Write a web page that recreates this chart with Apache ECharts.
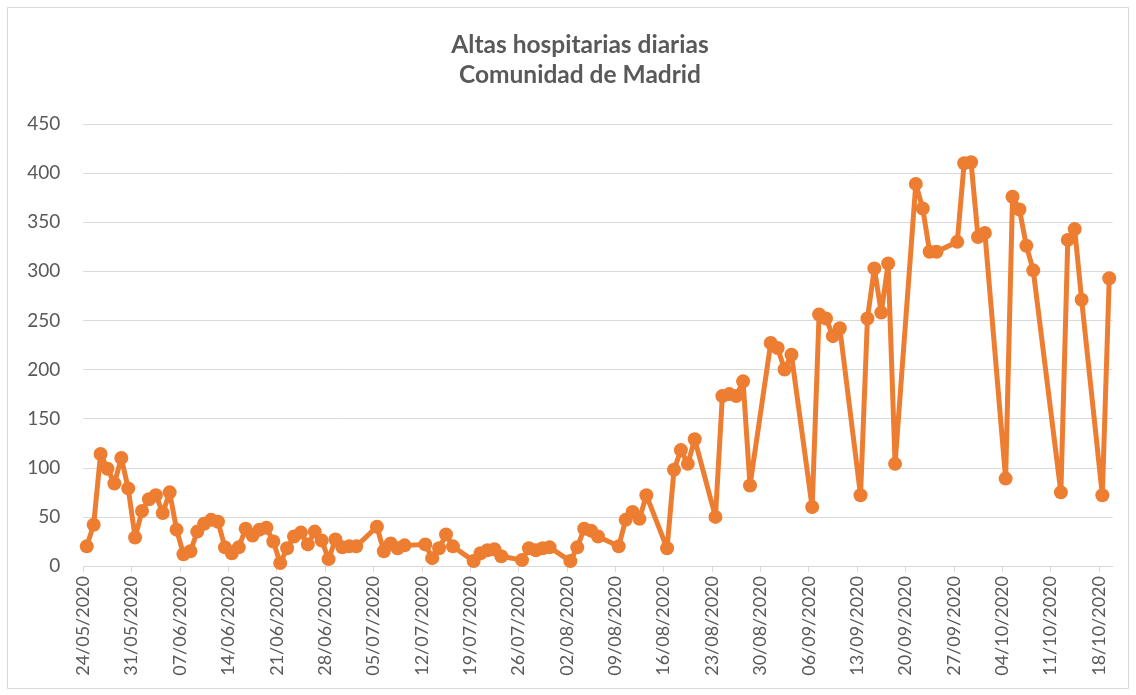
<!DOCTYPE html>
<html>
<head>
<meta charset="utf-8">
<script src="https://cdn.jsdelivr.net/npm/echarts@6/dist/echarts.min.js"></script>
<style>
html,body{margin:0;padding:0;background:#fff;}
#chart{width:1136px;height:695px;}
</style>
</head>
<body>
<div id="chart"></div>
<script>
const titleLines = ['Altas hospitarias diarias', 'Comunidad de Madrid'];
const dates = [
'24/05/2020','25/05/2020','26/05/2020','27/05/2020','28/05/2020','29/05/2020','30/05/2020','31/05/2020',
'01/06/2020','02/06/2020','03/06/2020','04/06/2020','05/06/2020','06/06/2020','07/06/2020','08/06/2020',
'09/06/2020','10/06/2020','11/06/2020','12/06/2020','13/06/2020','14/06/2020','15/06/2020','16/06/2020',
'17/06/2020','18/06/2020','19/06/2020','20/06/2020','21/06/2020','22/06/2020','23/06/2020','24/06/2020',
'25/06/2020','26/06/2020','27/06/2020','28/06/2020','29/06/2020','30/06/2020','01/07/2020','02/07/2020',
'05/07/2020','06/07/2020','07/07/2020','08/07/2020','09/07/2020',
'12/07/2020','13/07/2020','14/07/2020','15/07/2020','16/07/2020',
'19/07/2020','20/07/2020','21/07/2020','22/07/2020','23/07/2020',
'26/07/2020','27/07/2020','28/07/2020','29/07/2020','30/07/2020',
'02/08/2020','03/08/2020','04/08/2020','05/08/2020','06/08/2020',
'09/08/2020','10/08/2020','11/08/2020','12/08/2020','13/08/2020',
'16/08/2020','17/08/2020','18/08/2020','19/08/2020','20/08/2020',
'23/08/2020','24/08/2020','25/08/2020','26/08/2020','27/08/2020','28/08/2020',
'31/08/2020','01/09/2020','02/09/2020','03/09/2020',
'06/09/2020','07/09/2020','08/09/2020','09/09/2020','10/09/2020',
'13/09/2020','14/09/2020','15/09/2020','16/09/2020','17/09/2020','18/09/2020',
'21/09/2020','22/09/2020','23/09/2020','24/09/2020',
'27/09/2020','28/09/2020','29/09/2020','30/09/2020','01/10/2020',
'04/10/2020','05/10/2020','06/10/2020','07/10/2020','08/10/2020',
'12/10/2020','13/10/2020','14/10/2020','15/10/2020',
'18/10/2020','19/10/2020'
];
const altas = [
20,42,114,99,84,110,79,29,
56,68,72,54,75,37,12,15,
35,43,47,45,19,13,19,38,
31,37,39,25,3,18,30,34,
22,35,26,7,27,19,20,20,
40,15,23,18,21,
22,8,18,32,20,
5,13,16,17,10,
6,18,16,18,19,
5,19,38,36,30,
20,47,55,48,72,
18,98,118,104,129,
50,173,175,173,188,82,
227,222,200,215,
60,256,252,234,242,
72,252,303,258,308,104,
389,364,320,320,
330,410,411,335,339,
89,376,363,326,301,
75,332,343,271,
72,293
];
const tickLabels = ['24/05/2020','31/05/2020','07/06/2020','14/06/2020','21/06/2020','28/06/2020',
'05/07/2020','12/07/2020','19/07/2020','26/07/2020','02/08/2020','09/08/2020','16/08/2020',
'23/08/2020','30/08/2020','06/09/2020','13/09/2020','20/09/2020','27/09/2020','04/10/2020',
'11/10/2020','18/10/2020'];
const yTicks = [0,50,100,150,200,250,300,350,400,450];

function dayIndex(s){
  const p = s.split('/').map(Number);
  return Math.round((Date.UTC(p[2],p[1]-1,p[0]) - Date.UTC(2020,4,24)) / 86400000);
}
const tickPos = tickLabels.map(dayIndex);
const labelByPos = {};
tickLabels.forEach((t,i)=>{ labelByPos[tickPos[i]] = t; });
const seriesData = dates.map((d,i)=>[dayIndex(d)+0.5, altas[i]]);
const xMax = dayIndex('20/10/2020');

const font = 'Lato, "Liberation Sans", sans-serif';
const chart = echarts.init(document.getElementById('chart'));
chart.setOption({
  animation:false,
  backgroundColor:'#fff',
  title:{
    text: titleLines.join('\n'),
    left: 575, top: 25, textAlign:'center',
    textStyle:{fontFamily:font, fontSize:24.5, fontWeight:'bold', color:'#595959', lineHeight:30}
  },
  graphic:[{type:'rect', shape:{x:7.5,y:7.5,width:1121,height:681}, style:{fill:'none', stroke:'#D9D9D9', lineWidth:1}, silent:true}],
  grid:{left:83.3, right:23.3, top:124, bottom:129},
  xAxis:{
    type:'value', min:0, max:xMax,
    splitLine:{show:false},
    axisLine:{show:true, lineStyle:{color:'#D9D9D9', width:1}},
    axisTick:{show:true, length:6, lineStyle:{color:'#D9D9D9'}, customValues: tickPos},
    axisLabel:{
      customValues: tickPos,
      rotate:90, margin:10, color:'#595959', fontFamily:font, fontSize:18,
      formatter:(v)=> labelByPos[Math.round(v)] || ''
    }
  },
  yAxis:{
    type:'value', min:0, max:450, interval:50,
    axisLine:{show:false}, axisTick:{show:false},
    splitLine:{lineStyle:{color:'#D9D9D9', width:1}},
    axisLabel:{color:'#595959', fontFamily:font, fontSize:19, margin:23}
  },
  series:[{
    type:'line', data: seriesData,
    lineStyle:{color:'#ED7D31', width:5},
    itemStyle:{color:'#ED7D31'},
    symbol:'circle', symbolSize:14, showSymbol:true,
    z:3
  }]
});
</script>
</body>
</html>
